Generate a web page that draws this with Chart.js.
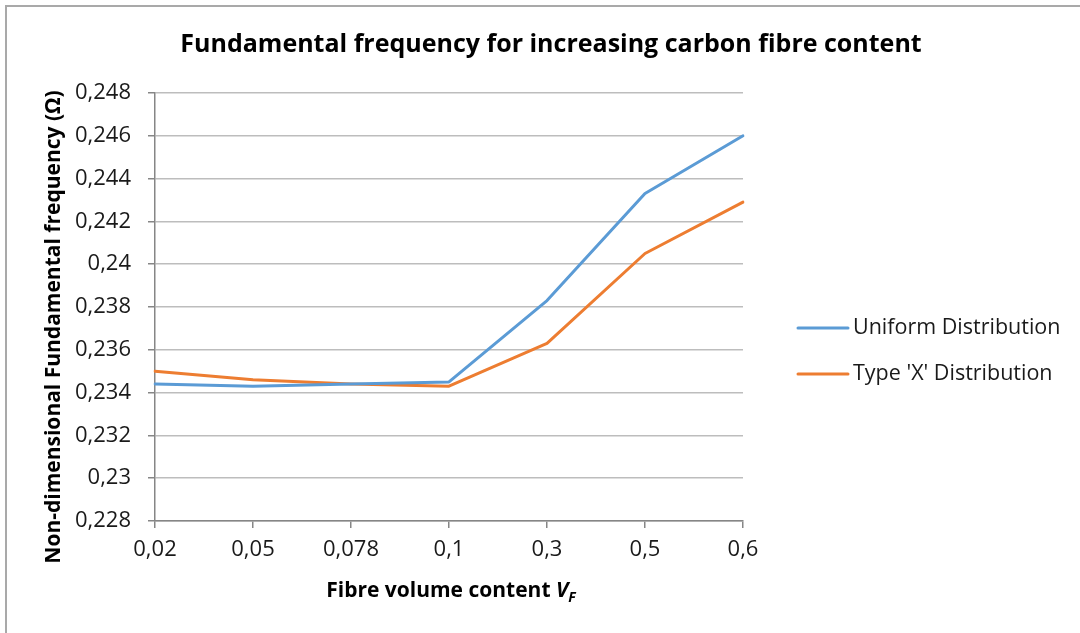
<!DOCTYPE html>
<html>
<head>
<meta charset="utf-8">
<script src="https://cdn.jsdelivr.net/npm/chart.js@4.4.1/dist/chart.umd.min.js"></script>
<style>
  html, body { margin: 0; padding: 0; background: #ffffff; }
  #frame { position: absolute; left: 5px; top: 5px; width: 1080px; height: 633px;
           border-left: 2px solid #a9a9a9; border-top: 2px solid #a9a9a9; }
  #wrap { position: absolute; left: 0; top: 0; width: 1080px; height: 633px; }
</style>
</head>
<body>
<div id="frame"></div>
<div id="wrap"><canvas id="chart" width="1080" height="633"></canvas></div>
<script>
// Fibre volume fraction categories (x axis)
const categories = ['0,02', '0,05', '0,078', '0,1', '0,3', '0,5', '0,6'];

// Non-dimensional fundamental frequency per distribution type
const uniformValues = [0.2344, 0.2343, 0.2344, 0.2345, 0.2383, 0.2433, 0.2460];
const typeXValues   = [0.2350, 0.2346, 0.2344, 0.2343, 0.2363, 0.2405, 0.2429];

const seriesNames = ['Uniform Distribution', "Type 'X' Distribution"];
const seriesColors = ['#5b9bd5', '#ed7d31'];

// Value axis range and tick step
const yMin = 0.228, yMax = 0.248, yStep = 0.002;

const chartTitle = 'Fundamental frequency for increasing carbon fibre content';
const yAxisTitle = 'Non-dimensional Fundamental frequency (\u03A9)';
const xAxisTitle = 'Fibre volume content ';

const FONT = '"Open Sans", Lato, sans-serif';
const TEXT = '#1a1a1a';
const AXIS = '#868686';
const GRID = '#bdbdbd';

function fmt(v) {
  return String(+v.toFixed(3)).replace('.', ',');
}

// Title, axis titles (with V_F subscript) and the legend on the right
const decorations = {
  id: 'decorations',
  afterDraw(chart) {
    const ctx = chart.ctx;
    ctx.save();
    ctx.fillStyle = '#000';
    ctx.textBaseline = 'middle';

    ctx.textAlign = 'center';
    ctx.font = 'bold 25px ' + FONT;
    ctx.fillText(chartTitle, 551, 45);

    ctx.save();
    ctx.translate(54, 327);
    ctx.rotate(-Math.PI / 2);
    ctx.font = 'bold 21px ' + FONT;
    ctx.fillText(yAxisTitle, 0, 0);
    ctx.restore();

    // x axis title: regular bold part, italic V, italic subscript F
    ctx.textAlign = 'left';
    const mainFont = 'bold 21px ' + FONT;
    const varFont = 'italic bold 21px ' + FONT;
    const subFont = 'italic bold 14px ' + FONT;
    ctx.font = mainFont; const w1 = ctx.measureText(xAxisTitle).width;
    ctx.font = varFont;  const w2 = ctx.measureText('V').width;
    ctx.font = subFont;  const w3 = ctx.measureText('F').width;
    let x = 451 - (w1 + w2 + w3) / 2;
    const y = 591;
    ctx.font = mainFont; ctx.fillText(xAxisTitle, x, y); x += w1;
    ctx.font = varFont;  ctx.fillText('V', x, y); x += w2;
    ctx.font = subFont;  ctx.fillText('F', x, y + 7);

    // legend
    chart.data.datasets.forEach((ds, i) => {
      const ly = 328 + i * 46;
      ctx.strokeStyle = ds.borderColor;
      ctx.lineWidth = 3;
      ctx.lineCap = 'round';
      ctx.beginPath();
      ctx.moveTo(798, ly);
      ctx.lineTo(848, ly);
      ctx.stroke();
      ctx.fillStyle = TEXT;
      ctx.font = '21.5px ' + FONT;
      ctx.fillText(ds.label, 853, ly);
    });
    ctx.restore();
  }
};

new Chart(document.getElementById('chart'), {
  type: 'line',
  data: {
    labels: categories,
    datasets: [
      { label: seriesNames[0], data: uniformValues, borderColor: seriesColors[0], backgroundColor: seriesColors[0] },
      { label: seriesNames[1], data: typeXValues, borderColor: seriesColors[1], backgroundColor: seriesColors[1] }
    ]
  },
  options: {
    responsive: false,
    animation: false,
    devicePixelRatio: 1,
    layout: { padding: { left: 0, top: 93, right: 337, bottom: 0 } },
    elements: {
      line: { borderWidth: 3, tension: 0, borderJoinStyle: 'round', borderCapStyle: 'round' },
      point: { radius: 0, hoverRadius: 0 }
    },
    plugins: {
      legend: { display: false },
      title: { display: false },
      tooltip: { enabled: false }
    },
    scales: {
      x: {
        type: 'category',
        offset: false,
        grid: { drawOnChartArea: false, drawTicks: true, tickLength: 7, tickColor: AXIS, lineWidth: 1.5 },
        border: { color: AXIS, width: 1.5 },
        ticks: { color: TEXT, font: { family: FONT, size: 22 }, padding: 9, maxRotation: 0, autoSkip: false },
        afterFit(scale) { scale.height = 112; }
      },
      y: {
        min: yMin,
        max: yMax,
        grid: { color: GRID, lineWidth: 1.5, tickLength: 7, tickColor: AXIS },
        border: { color: AXIS, width: 1.5 },
        ticks: { stepSize: yStep, color: TEXT, font: { family: FONT, size: 22 }, padding: 17, callback: fmt },
        afterFit(scale) { scale.width = 155; }
      }
    }
  },
  plugins: [decorations]
});
</script>
</body>
</html>
